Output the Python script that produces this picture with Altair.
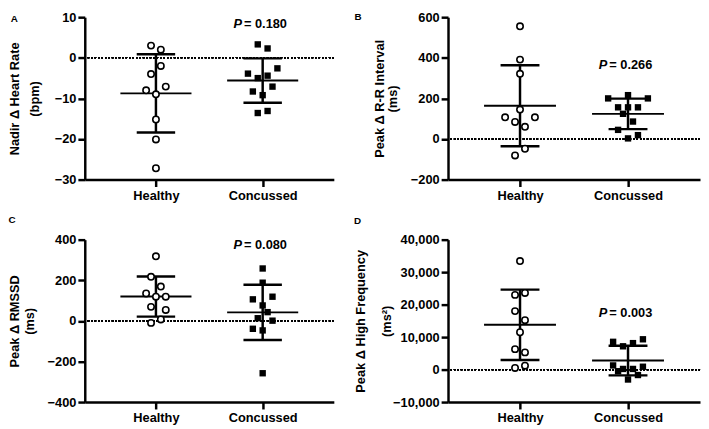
import altair as alt
import pandas as pd

FONT = "Liberation Sans"
groups = ["Healthy", "Concussed"]

# ---------------- data ----------------
# Panel A: Nadir Δ Heart Rate (bpm)
a_healthy = [3.0, 2.0, -2.0, -4.0, -8.0, -7.1, -9.0, -15.2, -20.1, -27.2]
a_healthy_col = [-1, 1, 1, -1, -2, 2, 0, 0, 0, 0]
a_conc = [3.3, 2.3, -2.6, -3.9, -4.4, -5.0, -8.3, -7.1, -9.2, -13.6, -13.1]
a_conc_col = [-1, 1, 3, -3, 1, -1, -2, 2, 0, -1, 1]
a_ticks = [-30, -20, -10, 0, 10]
a_p = "0.180"

# Panel B: Peak Δ R-R Interval (ms)
b_healthy = [555, 391, 321, 145, 107, 107, 84, 60, -48, -81]
b_healthy_col = [0, 0, 0, 0, -3, 3, -1, 1, 1, -1]
b_conc = [200, 216, 200, 156, 156, 156, 124, 86, 45, 19, 3]
b_conc_col = [-4, 0, 4, -2, 0, 2, -1, 1, -2, 2, 0]
b_ticks = [-200, 0, 200, 400, 600]
b_p = "0.266"

# Panel C: Peak Δ RMSSD (ms)
c_healthy = [318, 217, 169, 135, 119, 119, 69, 54, 7, -10]
c_healthy_col = [0, -1, 1, -2, 0, 2, -1, 2, 1, -1]
c_conc = [258, 188, 106, 119, 76, 43, 13, 1, -39, -47, -258]
c_conc_col = [0, 0, -2, 2, 0, 1, -1, 2, -2, 0, 0]
c_ticks = [-400, -200, 0, 200, 400]
c_p = "0.080"

# Panel D: Peak Δ High Frequency (ms²)
d_healthy = [33400, 23000, 23600, 18000, 15200, 11500, 6300, 5300, 500, 1200]
d_healthy_col = [0, -1, 1, -1, 1, 0, -1, 1, -1, 1]
d_conc = [8550, 7170, 8150, 9330, 1280, 880, 200, 200, -500, -1670, -3050]
d_conc_col = [-3, -1, 1, 3, -3, 3, -1, 1, -2, 2, 0]
d_ticks = [-10000, 0, 10000, 20000, 30000, 40000]
d_p = "0.003"

H = 165
STEP = 0.046


def panel(letter, title, healthy, hcol, conc, ccol, ticks, fmt, pval,
          p_frac, title_x, title_lh, letter_xy, width):
    df = pd.DataFrame({
        "pos": [1] * len(healthy) + [2] * len(conc),
        "value": healthy + conc,
        "col": hcol + ccol,
    })
    xs = alt.Scale(domain=[1 / 3, 8 / 3], nice=False, zero=False)
    ys = alt.Scale(domain=[ticks[0], ticks[-1]], nice=False, zero=False)
    common = dict(domainColor="black", domainWidth=2.5, tickColor="black",
                  tickWidth=2.5, tickSize=7, labelColor="black", labelFont=FONT,
                  labelFontSize=13, labelFontWeight="bold", grid=False)
    xaxis = alt.Axis(values=[1, 2], title=None, labelPadding=3,
                     labelExpr=f"datum.value == 1 ? '{groups[0]}' : '{groups[1]}'",
                     **common)
    yaxis = alt.Axis(values=ticks, format=fmt, title=title, titleX=title_x,
                     titleY=H / 2, titleAngle=270, titleAlign="center",
                     titleBaseline="alphabetic", titleLineHeight=title_lh,
                     titleFont=FONT, titleFontSize=13, titleFontWeight="bold",
                     titleColor="black", labelPadding=2, **common)

    def X(f):
        return alt.X(f, type="quantitative", scale=xs, axis=xaxis)

    def Y(f):
        return alt.Y(f, type="quantitative", scale=ys, axis=yaxis)

    base = alt.Chart(df)
    zero = base.mark_rule(color="black", strokeWidth=1.1, strokeDash=[1.5, 2]).encode(
        y=alt.YDatum(0, scale=ys, axis=yaxis)
    )
    stats = base.transform_aggregate(
        mean="mean(value)", sd="stdev(value)", groupby=["pos"]
    ).transform_calculate(
        lo="datum.mean - datum.sd", hi="datum.mean + datum.sd",
        capl="datum.pos - 0.18", capr="datum.pos + 0.18",
        ml="datum.pos - 0.333", mr="datum.pos + 0.333",
    )
    vline = stats.mark_rule(color="black", strokeWidth=2.5).encode(
        x=X("pos"), y=Y("lo"), y2="hi")
    cap_lo = stats.mark_rule(color="black", strokeWidth=2.5).encode(
        x=X("capl"), x2="capr", y=Y("lo"))
    cap_hi = stats.mark_rule(color="black", strokeWidth=2.5).encode(
        x=X("capl"), x2="capr", y=Y("hi"))
    mean = stats.mark_rule(color="black", strokeWidth=2).encode(
        x=X("ml"), x2="mr", y=Y("mean"))

    pts = base.transform_calculate(xv=f"datum.pos + datum.col * {STEP}")
    circ = pts.transform_filter("datum.pos == 1").mark_point(
        shape="circle", filled=True, fill="white", stroke="black",
        strokeWidth=1.6, size=42, opacity=1).encode(x=X("xv"), y=Y("value"))
    sq = pts.transform_filter("datum.pos == 2").mark_point(
        shape="square", filled=True, color="black", size=42, opacity=1
    ).encode(x=X("xv"), y=Y("value"))

    pdf = alt.Chart(pd.DataFrame({"p": [pval], "lab": [letter]}))
    py = alt.value(p_frac * H)
    pP = pdf.mark_text(text="P", font=FONT, fontStyle="italic", fontWeight="bold",
                       fontSize=13, align="right", baseline="middle", dx=-21,
                       color="black").encode(
        x=alt.XDatum(2, scale=xs, axis=xaxis), y=py)
    pV = pdf.mark_text(font=FONT, fontWeight="bold", fontSize=13, align="left",
                       baseline="middle", dx=-19, color="black").encode(
        x=alt.XDatum(2, scale=xs, axis=xaxis), y=py,
        text=alt.Text("ptext:N")).transform_calculate(ptext="'=  ' + datum.p")
    let = pdf.mark_text(font=FONT, fontWeight="bold", fontSize=10, align="center",
                        baseline="middle", color="black").encode(
        x=alt.value(letter_xy[0]), y=alt.value(letter_xy[1]), text="lab:N")

    return alt.layer(zero, vline, cap_lo, cap_hi, mean, circ, sq, pP, pV, let).properties(
        width=width, height=H)


A = panel("A", ["Nadir \u0394 Heart Rate", "(bpm)"], a_healthy, a_healthy_col,
          a_conc, a_conc_col, a_ticks, "d", a_p, 7 / 168, -67.5, 20.5, (-71.5, 2), 253)
B = panel("B", ["Peak \u0394 R-R Interval", "(ms)"], b_healthy, b_healthy_col,
          b_conc, b_conc_col, b_ticks, "d", b_p, 49.5 / 168, -66, 13.5, (-91.5, 0), 256)
C = panel("C", ["Peak \u0394 RMSSD", "(ms)"], c_healthy, c_healthy_col,
          c_conc, c_conc_col, c_ticks, "d", c_p, 5.3 / 168, -67.5, 15, (-74, -20), 253)
D = panel("D", ["Peak \u0394 High Frequency", "(ms\u00b2)"], d_healthy, d_healthy_col,
          d_conc, d_conc_col, d_ticks, ",.0f", d_p, 75.7 / 168, -85, 27, (-92, -19), 256)

chart = alt.concat(A, B, C, D, columns=2, spacing={"row": 13, "column": 19}).properties(
    padding=0
).configure_view(stroke=None).configure_text(font=FONT)

chart.save("out.html", embed_options={"renderer": "svg", "actions": False})
